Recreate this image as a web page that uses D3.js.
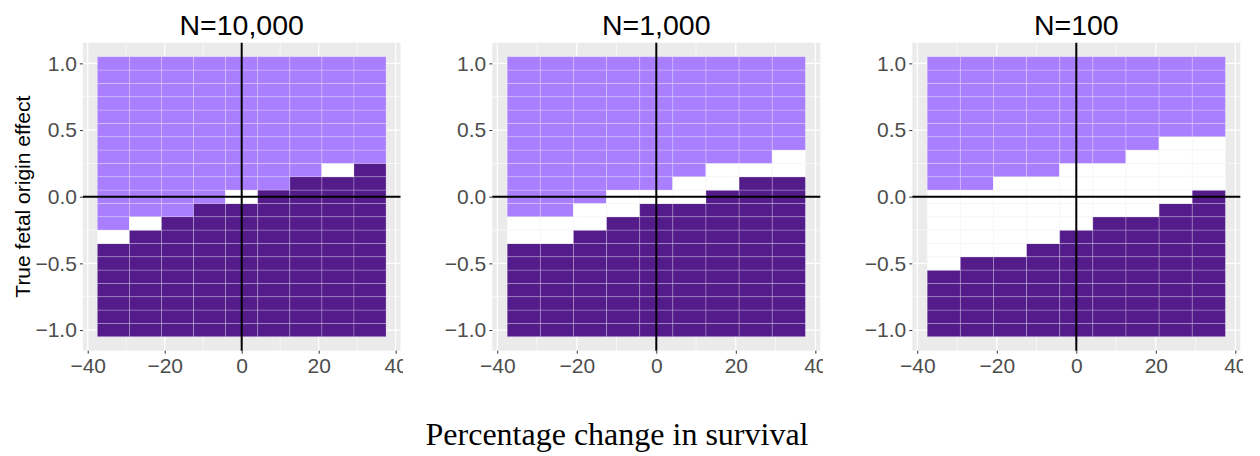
<!DOCTYPE html>
<html>
<head>
<meta charset="utf-8">
<script src="https://cdn.jsdelivr.net/npm/d3@7"></script>
<style>
  html, body { margin: 0; padding: 0; background: #fff; }
  svg { display: block; }
  .tick-label { font-family: "Liberation Sans", Arial, Helvetica, sans-serif; fill: #4d4d4d; }
</style>
</head>
<body>
<div id="chart"></div>
<script>
// tile grid
const xCenters = [-33.33, -25, -16.67, -8.33, 0, 8.33, 16.67, 25, 33.33]
const yCenters = [-1.0, -0.9, -0.8, -0.7, -0.6, -0.5, -0.4, -0.3, -0.2, -0.1, 0.0,
                  0.1, 0.2, 0.3, 0.4, 0.5, 0.6, 0.7, 0.8, 0.9, 1.0]

const panelTitles = ["N=10,000", "N=1,000", "N=100"]

// highest dark tile / lowest light tile per column (everything between is white)
const darkTop10000 = [-0.4, -0.3, -0.2, -0.1, -0.1, 0.0, 0.1, 0.1, 0.2]
const lightBottom10000 = [-0.2, -0.1, -0.1, 0.0, 0.1, 0.1, 0.2, 0.3, 0.3]
const darkTop1000 = [-0.4, -0.4, -0.3, -0.2, -0.1, -0.1, 0.0, 0.1, 0.1]
const lightBottom1000 = [-0.1, -0.1, 0.0, 0.1, 0.1, 0.2, 0.3, 0.3, 0.4]
const darkTop100 = [-0.6, -0.5, -0.5, -0.4, -0.3, -0.2, -0.2, -0.1, 0.0]
const lightBottom100 = [0.1, 0.1, 0.2, 0.2, 0.3, 0.3, 0.4, 0.5, 0.5]

const xTicks = [-40, -20, 0, 20, 40]
const xMinor = [-30, -10, 10, 30]
const yTicks = [-1.0, -0.5, 0.0, 0.5, 1.0]
const yMinor = [-0.75, -0.25, 0.25, 0.75]

const yTitle = "True fetal origin effect"
const xTitle = "Percentage change in survival"

const W = 1260, H = 456
const LIGHT = "#a97fff", DARK = "#541b8b"

const svg = d3.select("#chart").append("svg")
    .attr("width", W)
    .attr("height", H)

const panels = [
    { title: panelTitles[0], dark: darkTop10000, light: lightBottom10000, left: 82.9, right: 400.5, clip: 403 },
    { title: panelTitles[1], dark: darkTop1000, light: lightBottom1000, left: 492.3, right: 820.3, clip: 823 },
    { title: panelTitles[2], dark: darkTop100, light: lightBottom100, left: 912.3, right: 1240.3, clip: 1243 }
]

const TOP = 42.7, BOTTOM = 350.7

panels.forEach((p, i) => drawPanel(p, i))

function drawPanel(p, i) {
    const x = d3.scaleLinear().domain([-41.25, 41.25]).range([p.left, p.right])
    const y = d3.scaleLinear().domain([-1.155, 1.155]).range([BOTTOM, TOP])
    const dx = x(8.333) - x(0)
    const dy = y(0) - y(0.1)

    const clipId = "clip" + i
    svg.append("clipPath").attr("id", clipId)
        .append("rect")
        .attr("x", 0).attr("y", 0)
        .attr("width", p.clip).attr("height", H)

    const g = svg.append("g").attr("clip-path", `url(#${clipId})`)

    /* PANEL BACKGROUND + GRID */
    g.append("rect")
        .attr("x", p.left).attr("y", TOP)
        .attr("width", p.right - p.left).attr("height", BOTTOM - TOP)
        .attr("fill", "#ebebeb")

    g.selectAll(".minor-x").data(xMinor).join("line")
        .attr("x1", d => x(d)).attr("x2", d => x(d))
        .attr("y1", TOP).attr("y2", BOTTOM)
        .attr("stroke", "#fff").attr("stroke-width", 0.6)
    g.selectAll(".minor-y").data(yMinor).join("line")
        .attr("y1", d => y(d)).attr("y2", d => y(d))
        .attr("x1", p.left).attr("x2", p.right)
        .attr("stroke", "#fff").attr("stroke-width", 0.6)
    g.selectAll(".major-x").data(xTicks).join("line")
        .attr("x1", d => x(d)).attr("x2", d => x(d))
        .attr("y1", TOP).attr("y2", BOTTOM)
        .attr("stroke", "#fff").attr("stroke-width", 1.2)
    g.selectAll(".major-y").data(yTicks).join("line")
        .attr("y1", d => y(d)).attr("y2", d => y(d))
        .attr("x1", p.left).attr("x2", p.right)
        .attr("stroke", "#fff").attr("stroke-width", 1.2)

    /* TILES */
    const tiles = []
    xCenters.forEach((xc, c) => {
        yCenters.forEach(yc => {
            let fill = "#ffffff"
            if (yc <= p.dark[c] + 1e-6) fill = DARK
            else if (yc >= p.light[c] - 1e-6) fill = LIGHT
            tiles.push({ xc, yc, fill })
        })
    })

    g.selectAll(".tile").data(tiles).join("rect")
        .attr("class", "tile")
        .attr("x", d => x(d.xc) - dx / 2)
        .attr("y", d => y(d.yc) - dy / 2)
        .attr("width", dx)
        .attr("height", dy)
        .attr("fill", d => d.fill)
        .attr("stroke", d => d.fill === "#ffffff" ? "#f6f6f6" : "rgba(255,255,255,0.3)")
        .attr("stroke-width", 0.8)

    // reference lines at 0
    g.append("line")
        .attr("x1", p.left).attr("x2", p.right)
        .attr("y1", y(0)).attr("y2", y(0))
        .attr("stroke", "#000").attr("stroke-width", 2)
    g.append("line")
        .attr("x1", x(0)).attr("x2", x(0))
        .attr("y1", TOP).attr("y2", BOTTOM)
        .attr("stroke", "#000").attr("stroke-width", 2)

    /* AXES */
    const xAxis = g.append("g")
        .attr("transform", `translate(0,${BOTTOM})`)
        .call(d3.axisBottom(x).tickValues(xTicks).tickSize(3).tickPadding(3)
            .tickFormat(d => d < 0 ? "\u2212" + Math.abs(d) : d))
    xAxis.select(".domain").remove()
    xAxis.selectAll(".tick line").attr("stroke", "#333").attr("stroke-width", 1)
    xAxis.selectAll(".tick text")
        .attr("class", "tick-label")
        .attr("font-size", 21)
        .attr("dy", "0.78em")

    const yAxis = g.append("g")
        .attr("transform", `translate(${p.left},0)`)
        .call(d3.axisLeft(y).tickValues(yTicks).tickSize(3).tickPadding(3)
            .tickFormat(d => (d < 0 ? "\u2212" : "") + Math.abs(d).toFixed(1)))
    yAxis.select(".domain").remove()
    yAxis.selectAll(".tick line").attr("stroke", "#333").attr("stroke-width", 1)
    yAxis.selectAll(".tick text")
        .attr("class", "tick-label")
        .attr("font-size", 21)

    // panel title
    svg.append("text")
        .attr("x", (p.left + p.right) / 2)
        .attr("y", 35)
        .attr("text-anchor", "middle")
        .attr("font-family", "'Liberation Sans', Arial, Helvetica, sans-serif")
        .attr("font-size", 28.5)
        .attr("fill", "#000")
        .text(p.title)
}

// y axis title (first panel only)
svg.append("text")
    .attr("transform", `translate(30,${(TOP + BOTTOM) / 2}) rotate(-90)`)
    .attr("text-anchor", "middle")
    .attr("font-family", "'Liberation Sans', Arial, Helvetica, sans-serif")
    .attr("font-size", 21)
    .attr("fill", "#000")
    .text(yTitle)

// shared x title
svg.append("text")
    .attr("x", 617)
    .attr("y", 445)
    .attr("text-anchor", "middle")
    .attr("font-family", "'Liberation Serif', 'Times New Roman', serif")
    .attr("font-size", 32)
    .attr("fill", "#000")
    .text(xTitle)
</script>
</body>
</html>
